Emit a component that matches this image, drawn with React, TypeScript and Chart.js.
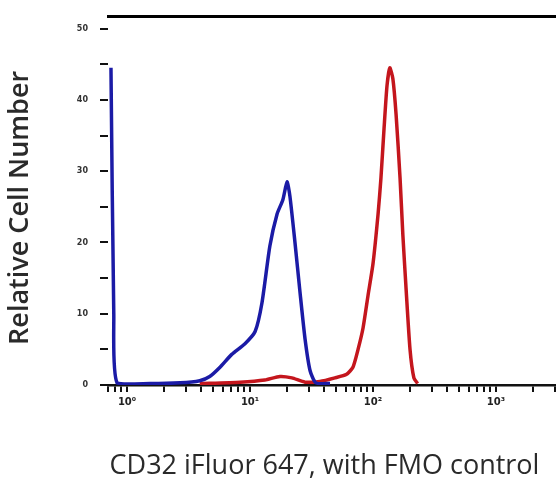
import React, { useEffect, useRef } from "react";
import { Chart, registerables } from "chart.js";

Chart.register(...registerables);

// Fluorescence intensity (log scale) and relative cell counts
const fmoX = [0.74, 0.78, 0.83, 1.54, 2.7, 3.9, 4.7, 5.7, 7.1, 9.1, 11.0, 12.5, 14.5, 16.6, 18.5, 20.0, 21.1, 23.2, 25.5, 28.0, 30.8, 34.3, 44.7];
const fmoY = [44.5, 10, 0.3, 0.2, 0.3, 0.6, 1.2, 2.5, 4.3, 5.8, 7.5, 11.5, 19.5, 24, 26, 28.5, 26.5, 20, 13, 6.5, 2, 0.3, 0.2];

const cd32X = [3.9, 8.3, 13.2, 17.5, 21.9, 28.0, 37.0, 49, 61, 68.7, 75.6, 83, 91, 100, 110, 116, 123, 130, 137, 145, 154, 166, 175, 185, 200, 215, 231];
const cd32Y = [0.2, 0.4, 0.7, 1.2, 1.0, 0.4, 0.5, 1.0, 1.5, 2.5, 5, 8, 12.5, 17, 24, 29, 36, 42, 44.5, 43, 38, 29, 21, 14, 5, 1, 0.2];

const decadeLabels = ["10\u2070", "10\u00b9", "10\u00b2", "10\u00b3"];
const yTickValues = [0, 10, 20, 30, 40, 50];

const xTitle = "CD32 iFluor 647, with FMO control";
const yTitle = "Relative Cell Number";

const X_MIN = 0.7;
const X_MAX = 3020;
const Y_MAX = 51.66;

export default function App() {
  const ref = useRef<HTMLCanvasElement | null>(null);

  useEffect(() => {
    if (!ref.current) return;
    const toPts = (xs: number[], ys: number[]) => xs.map((x, i) => ({ x, y: ys[i] }));
    const chart = new Chart(ref.current, {
      type: "line",
      data: {
        datasets: [
          {
            label: "FMO control",
            data: toPts(fmoX, fmoY),
            borderColor: "#1b1ba6",
            borderWidth: 3.5,
            pointRadius: 0,
            tension: 0.2,
            fill: false,
          },
          {
            label: "CD32 iFluor 647",
            data: toPts(cd32X, cd32Y),
            borderColor: "#c4161d",
            borderWidth: 3.5,
            pointRadius: 0,
            tension: 0.2,
            fill: false,
          },
        ],
      },
      options: {
        animation: false,
        responsive: false,
        maintainAspectRatio: false,
        layout: { padding: { left: 0, right: 5, top: 12, bottom: 0 } },
        plugins: { legend: { display: false }, tooltip: { enabled: false } },
        scales: {
          x: {
            type: "logarithmic",
            min: X_MIN,
            max: X_MAX,
            afterBuildTicks: (scale: any) => {
              const t: any[] = [];
              for (let d = -1; d <= 4; d++) {
                for (let m = 1; m <= 9; m++) {
                  const v = m * Math.pow(10, d);
                  if (v >= X_MIN && v <= X_MAX) t.push({ value: v });
                }
              }
              scale.ticks = t;
            },
            afterFit: (scale: any) => {
              scale.height = 104;
            },
            grid: { display: true, drawOnChartArea: false, drawTicks: true, tickLength: 7, color: "#111", lineWidth: 2 },
            border: { display: true, color: "#111", width: 2.5 },
            ticks: {
              autoSkip: false,
              maxRotation: 0,
              color: "#222",
              font: { family: "DejaVu Sans", size: 10, weight: "bold" },
              padding: 4,
              callback: (v: any) => {
                const e = Math.log10(Number(v));
                const r = Math.round(e);
                if (Math.abs(e - r) < 1e-9 && r >= 0 && r < decadeLabels.length) return decadeLabels[r];
                return "";
              },
            },
            title: {
              display: true,
              text: xTitle + "  ",
              color: "#2a2a2a",
              font: { family: "Open Sans", size: 27, weight: "normal" },
              padding: { top: 0, bottom: 6 },
            },
          },
          xTop: {
            type: "logarithmic",
            position: "top",
            min: X_MIN,
            max: X_MAX,
            afterFit: (scale: any) => {
              scale.height = 0;
            },
            grid: { display: false },
            ticks: { display: false },
            border: { display: true, color: "#000", width: 3 },
          },
          y: {
            type: "linear",
            min: 0,
            max: Y_MAX,
            afterBuildTicks: (scale: any) => {
              const t: any[] = [];
              for (let v = 0; v <= 50; v += 5) t.push({ value: v });
              scale.ticks = t;
            },
            afterFit: (scale: any) => {
              scale.width = 108;
            },
            grid: { display: true, drawOnChartArea: false, drawTicks: true, tickLength: 8, color: "#111", lineWidth: 2 },
            border: { display: false },
            ticks: {
              autoSkip: false,
              color: "#333",
              font: { family: "DejaVu Sans", size: 8, weight: "bold" },
              padding: 12,
              callback: (v: any) => (yTickValues.includes(Number(v)) ? String(v) : ""),
            },
            title: {
              display: true,
              text: yTitle + "  ",
              color: "#2a2a2a",
              font: { family: "Open Sans", size: 27, weight: "600" },
              padding: { top: 4, bottom: 0 },
            },
          },
        },
      },
    } as any);
    return () => chart.destroy();
  }, []);

  return (
    <div style={{ position: "fixed", left: 0, top: 0, width: 560, height: 489, background: "#fff" }}>
      <canvas ref={ref} width={560} height={489} style={{ width: 560, height: 489 }} />
    </div>
  );
}
